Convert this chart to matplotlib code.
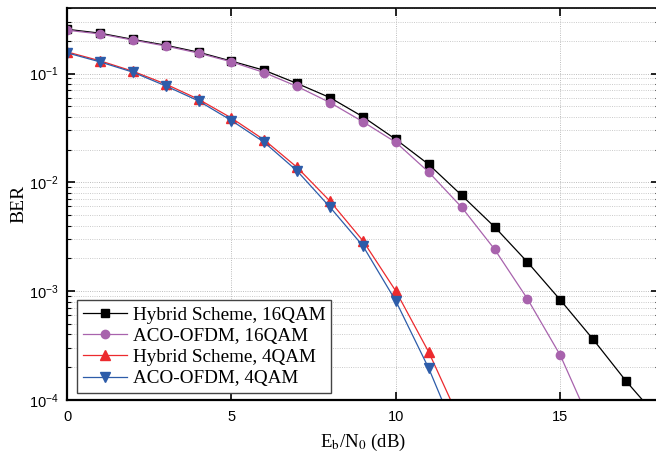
import numpy as np
import matplotlib
matplotlib.use("Agg")
import matplotlib.pyplot as plt
from matplotlib.ticker import LogLocator, FixedLocator, NullFormatter

# ================= Data =================
ebn0 = list(range(19))

hybrid_16qam = [0.255, 0.235, 0.206, 0.182, 0.157, 0.130, 0.107, 0.081, 0.060,
                0.040, 0.0248, 0.0146, 0.0076, 0.0039, 0.00185, 0.00083,
                0.00036, 0.000149, 6.7e-5]
aco_16qam = [0.250, 0.231, 0.203, 0.179, 0.154, 0.128, 0.102, 0.076, 0.054,
             0.036, 0.0233, 0.0124, 0.0059, 0.00243, 0.00085, 0.000257, 5.4e-5]
hybrid_4qam = [0.158, 0.131, 0.105, 0.080, 0.058, 0.039, 0.0245, 0.0137,
               0.0067, 0.0029, 0.0010, 0.000275, 6.0e-5]
aco_4qam = [0.155, 0.128, 0.103, 0.077, 0.056, 0.037, 0.0233, 0.0127,
            0.0059, 0.0026, 0.00081, 0.000195, 3.7e-5]

labels = ["Hybrid Scheme, 16QAM", "ACO-OFDM, 16QAM",
          "Hybrid Scheme, 4QAM", "ACO-OFDM, 4QAM"]

# ================= Style =================
plt.rcParams["font.family"] = ["Liberation Sans", "DejaVu Sans"]
plt.rcParams["mathtext.fontset"] = "custom"
plt.rcParams["mathtext.rm"] = "Liberation Sans"
plt.rcParams["mathtext.it"] = "Liberation Sans:italic"
plt.rcParams["mathtext.bf"] = "Liberation Sans:bold"

serif = ["Liberation Serif", "DejaVu Serif"]

fig = plt.figure(figsize=(6.56, 4.58), dpi=100)
W, H = 656, 458
ax = fig.add_axes([67 / W, 1 - 400 / H, (659 - 67) / W, (400 - 8) / H])

ax.plot(ebn0[:len(hybrid_16qam)], hybrid_16qam, color="black", marker="s",
        ms=5.5, lw=0.9, label=labels[0])
ax.plot(ebn0[:len(aco_16qam)], aco_16qam, color="#a863ad", marker="o",
        ms=6, lw=0.9, label=labels[1])
ax.plot(ebn0[:len(hybrid_4qam)], hybrid_4qam, color="#ec2a2e", marker="^",
        ms=6.5, lw=0.9, label=labels[2])
ax.plot(ebn0[:len(aco_4qam)], aco_4qam, color="#2d5ca9", marker="v",
        ms=6.5, lw=0.9, label=labels[3])

ax.set_yscale("log")
ax.set_xlim(0, 18)
ax.set_ylim(1e-4, 0.4)

ax.xaxis.set_major_locator(FixedLocator([0, 5, 10, 15]))
ax.yaxis.set_major_locator(LogLocator(base=10, numticks=10))
ax.yaxis.set_minor_locator(LogLocator(base=10, subs=np.arange(2, 10), numticks=20))
ax.yaxis.set_minor_formatter(NullFormatter())

ax.tick_params(which="both", direction="in", top=True, right=True,
               labelsize=10.5, pad=7)
ax.tick_params(axis="y", pad=6)
ax.tick_params(which="major", length=6, width=1.2)
ax.tick_params(which="minor", length=3, width=0.8)

ax.grid(True, which="major", color="#b4b4b4", lw=0.6, dashes=(1.2, 1.5))
ax.grid(True, which="minor", axis="y", color="#c4c4c4", lw=0.6, dashes=(1.2, 1.5))

for s in ["left", "bottom"]:
    ax.spines[s].set_linewidth(1.6)
for s in ["top", "right"]:
    ax.spines[s].set_linewidth(1.2)

ax.set_xlabel(r"E$_\mathrm{b}$/N$_0$ (dB)", fontsize=13.5, family=serif,
              math_fontfamily="stix", labelpad=6)
ax.set_ylabel("BER", fontsize=14, family=serif)
ax.yaxis.set_label_coords(27 / W, 1 - 204 / H, transform=fig.transFigure)

leg = ax.legend(loc="lower left", bbox_to_anchor=(77 / W, 1 - 393 / H),
                bbox_transform=fig.transFigure, borderaxespad=0,
                prop={"family": serif, "size": 13.8}, labelspacing=0.2,
                handlelength=2.3, handletextpad=0.3, borderpad=0.3,
                fancybox=False, framealpha=1, edgecolor="#444444")
leg.get_frame().set_linewidth(1.0)

fig.savefig("out.png", dpi=100)
